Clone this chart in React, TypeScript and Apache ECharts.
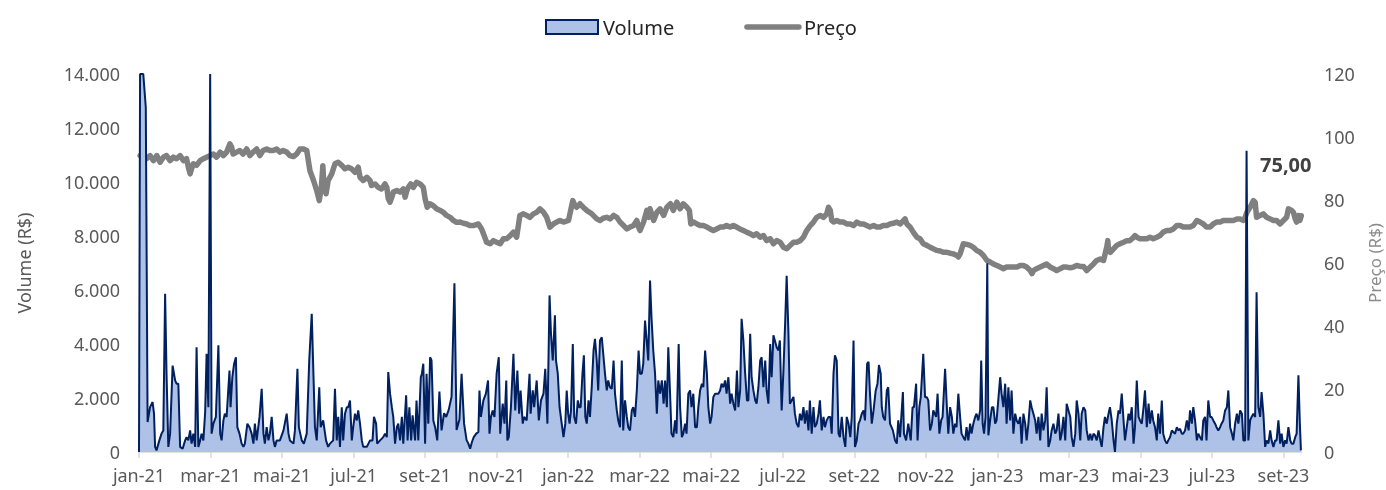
import React, { useEffect, useRef } from "react";
import * as echarts from "echarts";

// x values are months since jan-21 (0 = start of jan-21)
const tickLabels = ["jan-21","mar-21","mai-21","jul-21","set-21","nov-21","jan-22","mar-22","mai-22","jul-22","set-22","nov-22","jan-23","mar-23","mai-23","jul-23","set-23"];
const tickValues = tickLabels.map((_, i) => i * 2);

// Volume (R$) — [month, value]
const vol2021 = [[0,0],[0.03,14000],[0.12,14000],[0.19,12760],[0.24,1110],[0.31,1660],[0.38,1850],[0.42,1420],[0.45,190],[0.49,60],[0.57,430],[0.63,680],[0.68,800],[0.73,5860],[0.77,2900],[0.82,190],[0.87,680],[0.94,3200],[1.01,2650],[1.05,2530],[1.10,2530],[1.15,190],[1.22,120],[1.29,430],[1.33,550],[1.38,430],[1.43,800],[1.47,310],[1.52,680],[1.57,190],[1.61,3880],[1.66,190],[1.71,430],[1.75,680],[1.80,430],[1.85,1480],[1.89,3640],[1.94,1660],[1.99,14000],[2.03,680],[2.08,1050],[2.15,1300],[2.22,3950],[2.27,680],[2.31,430],[2.36,1170],[2.40,1420],[2.45,1300],[2.53,3020],[2.56,1660],[2.61,2770],[2.66,3270],[2.71,3510],[2.75,920],[2.81,680],[2.87,310],[2.92,190],[2.96,310],[3.03,1050],[3.09,920],[3.15,680],[3.20,310],[3.24,1050],[3.29,430],[3.37,1300],[3.43,2340],[3.48,680],[3.52,310],[3.57,920],[3.62,430],[3.66,680],[3.71,1300],[3.76,430],[3.80,190],[3.85,430],[3.94,430],[4.04,800],[4.13,1420],[4.18,680],[4.22,430],[4.32,310],[4.36,800],[4.43,3080],[4.47,920],[4.55,430],[4.61,310],[4.69,680],[4.76,3390],[4.83,5120],[4.88,2770],[4.92,920],[4.97,430],[5.04,2400],[5.08,920],[5.15,1170],[5.23,430],[5.29,190],[5.34,310],[5.43,430],[5.48,2340],[5.53,430],[5.57,1300],[5.62,190],[5.67,1660],[5.71,430],[5.76,1420],[5.81,1660],[5.85,1660],[5.90,1910],[5.95,430],[5.99,920],[6.04,1420],[6.09,1170],[6.13,1540],[6.18,1050],[6.23,430],[6.27,190],[6.37,190],[6.46,430],[6.53,430],[6.57,1300],[6.63,1050],[6.66,310],[6.74,430],[6.83,550],[6.88,680],[6.93,550],[6.97,2960],[7.02,2160],[7.07,1660],[7.11,1300],[7.16,310],[7.21,920],[7.25,1050],[7.30,430],[7.35,1300],[7.39,310],[7.47,2100],[7.51,430],[7.56,1660],[7.61,430],[7.65,1360],[7.72,430],[7.76,1910],[7.81,430],[7.88,2770],[7.91,2900],[7.95,3270],[8.00,310],[8.04,2900],[8.09,1050],[8.14,3510],[8.18,3390],[8.23,1170],[8.28,920],[8.34,430],[8.40,2240],[8.46,800],[8.53,1440],[8.59,1300],[8.66,1560],[8.74,2050],[8.82,6250],[8.88,815],[8.96,1200],[9.02,2900],[9.09,1050],[9.16,440],[9.21,310],[9.26,120],[9.31,370],[9.36,550],[9.43,680],[9.49,740],[9.52,2280],[9.56,1300],[9.63,1910],[9.70,2160],[9.76,2650],[9.80,680],[9.84,1300],[9.89,1540],[9.94,1300],[10.00,2900],[10.06,3510],[10.10,680],[10.17,1790],[10.22,1050],[10.27,2650],[10.30,430],[10.34,550],[10.40,1660],[10.47,3640],[10.52,1540],[10.58,3020],[10.63,1420],[10.67,2280],[10.73,1050],[10.77,1300],[10.84,1170],[10.92,2900],[10.95,1420],[11.01,2280],[11.05,1660],[11.12,2650],[11.18,1170],[11.24,1910],[11.31,2160],[11.36,3080],[11.42,1050],[11.48,5800],[11.52,4380],[11.57,3390],[11.63,5060],[11.66,3390],[11.71,2900],[11.76,1660],[11.82,1050],[11.87,550],[11.92,1050],[11.96,2280],[12.00,1420]];
const vol2022 = [[12.04,1050],[12.08,1540],[12.13,4000],[12.17,1300],[12.22,1050],[12.27,1910],[12.31,1660],[12.35,1660],[12.40,2900],[12.44,3580],[12.48,1300],[12.52,1050],[12.57,1910],[12.61,1300],[12.66,2420],[12.71,3760],[12.75,4190],[12.80,3390],[12.84,2280],[12.89,4130],[12.94,4250],[12.99,3510],[13.03,2900],[13.08,2280],[13.12,2650],[13.17,2400],[13.22,2340],[13.27,3390],[13.31,2160],[13.36,1540],[13.40,1170],[13.45,920],[13.50,3390],[13.54,800],[13.59,1910],[13.64,1300],[13.68,920],[13.73,800],[13.78,1540],[13.82,1660],[13.87,1300],[13.92,2280],[13.97,3760],[14.01,2900],[14.06,2900],[14.10,3270],[14.15,4870],[14.20,4070],[14.24,3390],[14.29,6350],[14.33,5000],[14.38,3760],[14.43,2900],[14.48,1420],[14.52,2650],[14.57,2160],[14.62,2650],[14.67,1790],[14.71,2650],[14.76,1660],[14.80,3880],[14.85,2160],[14.89,680],[14.94,550],[14.99,1170],[15.03,680],[15.09,4000],[15.13,1660],[15.18,550],[15.22,680],[15.27,1050],[15.31,680],[15.36,2160],[15.41,2280],[15.45,1660],[15.50,2160],[15.55,920],[15.60,920],[15.64,1660],[15.69,2280],[15.74,2530],[15.78,2400],[15.83,3760],[15.88,2900],[15.92,1660],[15.97,1050],[16.01,1300],[16.06,2040],[16.11,2160],[16.15,2160],[16.20,2160],[16.25,2280],[16.29,2530],[16.34,2400],[16.39,2650],[16.43,2160],[16.48,2770],[16.53,1790],[16.57,2160],[16.62,1790],[16.67,1540],[16.72,3020],[16.76,1660],[16.81,2280],[16.85,4930],[16.90,4130],[16.95,2900],[17.00,1910],[17.04,1910],[17.09,4380],[17.13,2770],[17.18,2280],[17.23,1910],[17.27,1790],[17.32,2400],[17.37,3390],[17.41,3510],[17.46,2400],[17.51,3390],[17.55,2280],[17.60,1790],[17.65,4000],[17.69,2770],[17.74,4320],[17.78,4130],[17.83,3880],[17.88,3760],[17.92,4130],[17.97,1540],[18.02,3020],[18.07,4870],[18.11,6530],[18.16,4400],[18.20,1790],[18.25,1910],[18.30,2040],[18.34,1420],[18.39,1050],[18.44,920],[18.48,1420],[18.53,1170],[18.58,1660],[18.62,1050],[18.67,1540],[18.72,800],[18.76,1910],[18.81,680],[18.86,1660],[18.90,920],[18.95,1050],[19.00,1420],[19.04,1910],[19.09,800],[19.14,1300],[19.18,920],[19.23,1170],[19.28,1300],[19.33,1300],[19.37,680],[19.42,2900],[19.46,3580],[19.51,3390],[19.56,680],[19.60,550],[19.65,1300],[19.70,550],[19.75,190],[19.79,1300],[19.84,1050],[19.89,550],[19.93,1300],[19.98,4130],[20.02,190],[20.07,430],[20.12,1050],[20.16,1170],[20.21,1420],[20.26,1540],[20.30,1170],[20.36,3270],[20.40,3340],[20.44,2160],[20.49,1050],[20.54,1540],[20.60,2280],[20.65,2530],[20.69,3220],[20.74,2900],[20.77,1660],[20.81,1300],[20.86,1170],[20.91,2280],[20.95,2400],[21.00,1050],[21.08,800],[21.14,430],[21.19,310],[21.23,1170],[21.28,550],[21.36,2220],[21.39,680],[21.45,430],[21.51,1050],[21.58,430],[21.63,1660],[21.67,1660],[21.73,2530],[21.77,430],[21.82,1660],[21.86,2030],[21.93,3640],[21.98,2030],[22.03,2030],[22.07,1910],[22.12,800],[22.17,1050],[22.21,1540],[22.29,1300],[22.33,2160],[22.38,680],[22.43,1170],[22.47,1300],[22.54,3080],[22.59,1660],[22.63,680],[22.68,1660],[22.73,1300],[22.77,680],[22.82,1050],[22.86,920],[22.91,2160],[22.96,1300],[23.00,680],[23.05,550],[23.10,430],[23.14,920],[23.19,430],[23.24,1050],[23.28,680],[23.33,1050],[23.38,1300],[23.42,1420],[23.47,1170],[23.52,1540],[23.55,3390],[23.59,1050],[23.63,680],[23.67,1300],[23.72,6990],[23.75,620],[23.80,1170],[23.85,1660],[23.89,1660],[23.94,1050],[23.98,1170]];
const vol2023 = [[24.08,2770],[24.12,2160],[24.17,1660],[24.22,2530],[24.26,1050],[24.31,2400],[24.36,1170],[24.40,2280],[24.45,680],[24.50,1420],[24.54,1170],[24.59,1050],[24.64,1300],[24.68,310],[24.73,1420],[24.78,1050],[24.82,430],[24.87,1050],[24.92,1910],[24.96,1660],[25.01,1420],[25.06,1170],[25.10,680],[25.15,1300],[25.20,430],[25.24,1420],[25.29,800],[25.34,1170],[25.38,2400],[25.43,190],[25.48,430],[25.52,800],[25.57,1050],[25.62,680],[25.66,800],[25.71,1420],[25.76,430],[25.80,680],[25.85,1300],[25.90,430],[25.94,1790],[25.99,1540],[26.04,1300],[26.08,550],[26.13,190],[26.18,680],[26.22,1910],[26.27,1420],[26.32,430],[26.36,1420],[26.41,1660],[26.46,1540],[26.50,800],[26.55,430],[26.60,680],[26.64,430],[26.69,680],[26.73,620],[26.78,430],[26.83,800],[26.88,430],[26.92,190],[26.97,920],[27.01,1300],[27.06,1050],[27.11,1420],[27.15,1660],[27.20,1170],[27.25,430],[27.29,0],[27.34,1050],[27.39,1540],[27.43,1420],[27.48,2160],[27.53,1170],[27.57,430],[27.62,920],[27.67,1420],[27.71,1170],[27.76,1660],[27.81,310],[27.85,920],[27.90,2650],[27.95,1300],[27.99,1170],[28.04,1050],[28.09,1660],[28.13,2280],[28.18,920],[28.23,1790],[28.27,1050],[28.32,1540],[28.36,1170],[28.41,920],[28.46,430],[28.50,1420],[28.55,680],[28.60,1910],[28.64,680],[28.69,430],[28.74,310],[28.78,430],[28.83,550],[28.88,800],[28.92,740],[28.97,680],[29.02,920],[29.06,800],[29.11,860],[29.16,680],[29.20,680],[29.25,800],[29.30,1170],[29.35,800],[29.39,1540],[29.44,1050],[29.48,1660],[29.53,1170],[29.58,430],[29.62,680],[29.67,550],[29.72,430],[29.76,1170],[29.81,1300],[29.85,430],[29.90,1910],[29.95,1300],[29.99,1300],[30.04,1170],[30.09,1050],[30.13,920],[30.18,800],[30.23,920],[30.27,1050],[30.32,1170],[30.37,1540],[30.42,1660],[30.46,2280],[30.51,920],[30.56,680],[30.60,430],[30.65,1050],[30.70,1420],[30.74,1050],[30.79,1540],[30.84,1420],[30.88,430],[30.93,430],[30.97,11160],[31.02,430],[31.07,1170],[31.11,1300],[31.16,1420],[31.21,1300],[31.25,5920],[31.30,1660],[31.35,1300],[31.39,2220],[31.44,1420],[31.49,190],[31.53,430],[31.58,310],[31.63,800],[31.67,430],[31.72,190],[31.77,430],[31.81,430],[31.86,1170],[31.91,310],[31.95,680],[32.00,190],[32.05,430],[32.09,310],[32.14,920],[32.19,430],[32.23,310],[32.28,310],[32.33,550],[32.37,680],[32.42,2840],[32.46,1050],[32.49,60]];

// Preço (R$) — [month, value]
const price2021 = [[0.03,94.1],[0.12,93.6],[0.21,93.1],[0.31,94.1],[0.40,92.5],[0.50,94.1],[0.59,92.0],[0.68,93.6],[0.77,94.1],[0.87,92.5],[0.96,93.6],[1.05,93.1],[1.15,94.1],[1.24,92.5],[1.33,93.1],[1.38,90.4],[1.43,88.3],[1.47,89.9],[1.52,91.5],[1.61,91.0],[1.71,92.5],[1.80,93.1],[1.89,93.6],[1.99,94.1],[2.08,94.6],[2.17,93.6],[2.27,95.2],[2.36,94.1],[2.45,95.2],[2.54,97.8],[2.59,96.8],[2.63,94.6],[2.73,95.2],[2.82,95.7],[2.91,94.6],[3.01,96.2],[3.10,94.1],[3.19,95.2],[3.29,96.2],[3.38,94.1],[3.47,95.7],[3.57,96.2],[3.66,95.7],[3.75,95.7],[3.85,96.2],[3.94,95.2],[4.03,95.7],[4.13,95.2],[4.22,94.1],[4.32,93.8],[4.41,94.6],[4.50,96.2],[4.60,96.2],[4.69,95.7],[4.78,89.3],[4.88,86.2],[4.97,83.0],[5.04,79.8],[5.10,84.0],[5.14,90.9],[5.17,85.1],[5.23,82.0],[5.29,86.2],[5.39,88.3],[5.48,91.5],[5.57,92.0],[5.67,91.0],[5.76,89.9],[5.85,90.4],[5.94,89.9],[6.04,88.8],[6.13,90.4],[6.18,87.2],[6.27,86.2],[6.37,87.2],[6.46,86.2],[6.50,84.6],[6.60,85.1],[6.69,84.0],[6.78,83.5],[6.88,85.1],[6.93,84.0],[6.97,80.4],[7.02,79.3],[7.07,80.9],[7.11,82.5],[7.21,83.0],[7.30,82.5],[7.39,83.5],[7.44,80.9],[7.49,83.0],[7.53,84.0],[7.60,85.1],[7.67,84.0],[7.76,85.6],[7.86,85.1],[7.95,84.0],[8.00,80.4],[8.06,77.7],[8.13,78.8],[8.23,78.2],[8.32,77.2],[8.42,76.7],[8.51,76.1],[8.60,75.1],[8.70,74.5],[8.79,73.5],[8.88,72.9],[8.98,73.0],[9.07,72.6],[9.16,72.4],[9.25,71.9],[9.35,71.9],[9.49,72.4],[9.58,70.8],[9.65,68.7],[9.72,66.6],[9.82,66.1],[9.91,67.1],[10.00,66.6],[10.10,66.1],[10.19,67.7],[10.28,67.7],[10.38,68.7],[10.47,69.8],[10.56,68.2],[10.61,72.0],[10.65,75.1],[10.75,75.6],[10.84,75.1],[10.93,74.5],[11.03,75.6],[11.12,76.1],[11.21,77.2],[11.31,76.1],[11.40,74.5],[11.49,71.4],[11.59,72.4],[11.68,73.0],[11.77,73.5],[11.87,73.0],[12.01,73.5]];
const price2022 = [[12.08,77.2],[12.13,79.8],[12.19,78.2],[12.24,77.7],[12.33,78.8],[12.42,77.7],[12.52,76.7],[12.66,75.6],[12.80,74.0],[12.89,73.5],[12.98,74.2],[13.08,74.5],[13.17,74.0],[13.27,75.1],[13.36,74.5],[13.45,73.0],[13.55,71.9],[13.64,70.8],[13.73,71.4],[13.83,71.9],[13.92,73.5],[13.97,71.4],[14.01,70.3],[14.11,73.0],[14.20,76.7],[14.25,74.5],[14.29,77.2],[14.39,73.5],[14.48,76.1],[14.57,77.2],[14.67,75.1],[14.76,77.7],[14.86,78.8],[14.94,76.7],[15.04,79.3],[15.13,77.2],[15.22,78.8],[15.32,77.7],[15.39,76.7],[15.43,72.4],[15.50,73.0],[15.60,72.4],[15.69,71.9],[15.78,71.9],[15.88,71.4],[15.97,70.8],[16.06,70.3],[16.15,70.8],[16.25,71.4],[16.34,71.4],[16.43,71.9],[16.53,71.4],[16.62,71.9],[16.71,71.4],[16.80,70.8],[16.90,70.3],[16.99,69.8],[17.09,69.3],[17.18,68.7],[17.27,69.3],[17.37,68.2],[17.46,68.7],[17.55,67.1],[17.65,67.7],[17.74,66.1],[17.83,67.1],[17.93,66.6],[18.02,65.0],[18.11,64.5],[18.21,65.6],[18.30,66.6],[18.39,66.6],[18.49,67.1],[18.58,68.2],[18.67,70.3],[18.77,71.9],[18.86,73.0],[18.95,74.5],[19.05,75.1],[19.14,74.5],[19.23,75.6],[19.28,77.7],[19.33,76.7],[19.37,73.5],[19.42,73.0],[19.51,73.5],[19.60,73.0],[19.70,73.0],[19.79,72.4],[19.89,72.4],[19.98,71.9],[20.07,73.0],[20.16,72.4],[20.26,72.4],[20.35,71.9],[20.44,71.4],[20.54,71.9],[20.63,71.4],[20.72,71.4],[20.81,71.9],[20.91,71.9],[21.00,72.4],[21.09,72.6],[21.19,73.0],[21.28,72.4],[21.38,73.5],[21.42,74.0],[21.47,72.4],[21.56,71.4],[21.65,69.8],[21.75,68.2],[21.84,67.7],[21.93,66.1],[22.03,65.6],[22.12,65.0],[22.21,64.5],[22.31,64.0],[22.40,63.8],[22.49,63.4],[22.59,63.4],[22.68,63.1],[22.77,62.9],[22.87,62.4],[22.91,61.9],[22.96,62.9],[23.05,66.1],[23.15,65.9],[23.24,65.6],[23.33,65.0],[23.42,64.0],[23.52,63.4],[23.61,62.4],[23.71,60.8],[23.80,60.3],[23.89,59.7],[23.99,59.2]];
const price2023 = [[24.08,58.7],[24.17,58.2],[24.26,58.7],[24.36,58.7],[24.45,58.7],[24.55,58.7],[24.64,59.2],[24.73,59.2],[24.82,58.7],[24.92,57.6],[24.97,56.6],[25.01,57.6],[25.10,58.2],[25.20,58.7],[25.29,59.2],[25.38,59.7],[25.48,58.7],[25.57,58.2],[25.66,57.6],[25.76,58.2],[25.85,58.7],[25.94,58.7],[26.04,58.5],[26.13,58.7],[26.22,59.2],[26.32,58.9],[26.41,58.9],[26.50,57.6],[26.60,58.7],[26.69,59.7],[26.78,60.8],[26.88,61.3],[26.97,60.8],[27.06,65.0],[27.09,67.1],[27.11,64.0],[27.16,63.4],[27.25,64.5],[27.34,65.6],[27.43,66.1],[27.53,66.6],[27.62,67.1],[27.71,67.1],[27.81,68.2],[27.85,68.7],[27.90,68.2],[27.99,67.7],[28.09,67.7],[28.18,67.7],[28.27,68.2],[28.36,67.7],[28.46,68.2],[28.55,68.7],[28.64,69.8],[28.74,70.3],[28.83,70.3],[28.92,70.8],[29.02,71.9],[29.11,71.9],[29.20,71.4],[29.30,71.4],[29.39,71.4],[29.48,71.9],[29.58,73.5],[29.67,73.0],[29.76,72.4],[29.85,71.4],[29.95,71.4],[30.04,72.4],[30.13,73.0],[30.23,73.0],[30.32,73.5],[30.42,73.5],[30.51,73.5],[30.60,73.5],[30.70,74.0],[30.79,74.0],[30.88,73.5],[30.93,74.5],[30.98,76.1],[31.07,77.7],[31.16,79.8],[31.21,79.3],[31.25,74.5],[31.35,75.1],[31.44,75.6],[31.53,74.5],[31.63,74.0],[31.72,73.5],[31.81,73.5],[31.91,72.4],[32.00,73.5],[32.09,74.5],[32.14,77.2],[32.23,76.7],[32.28,76.1],[32.33,74.0],[32.37,73.0],[32.42,75.1],[32.46,73.5],[32.50,75.0]];

const lastPriceLabel = "75,00";

const FONT = "'Noto Sans', 'Open Sans', sans-serif";

function fmtThousands(v: number): string {
  return String(v).replace(/\B(?=(\d{3})+(?!\d))/g, ".");
}

export default function App() {
  const ref = useRef<HTMLDivElement>(null);
  useEffect(() => {
    if (!ref.current) return;
    const chart = echarts.init(ref.current, undefined, { renderer: "svg" });
    const volume = [...vol2021, ...vol2022, ...vol2023];
    const price = [...price2021, ...price2022, ...price2023];
    chart.setOption({
      animation: false,
      textStyle: { fontFamily: FONT },
      grid: { left: 139, right: 84, top: 74, bottom: 38, containLabel: false, outerBoundsMode: "none" },
      legend: {
        left: 540,
        top: 12,
        itemWidth: 52,
        itemHeight: 14,
        itemGap: 70,
        selectedMode: false,
        textStyle: { fontSize: 20, color: "#262626", fontFamily: FONT },
        data: [
          { name: "Volume", icon: "rect", itemStyle: { color: "#adc2e6", borderColor: "#002060", borderWidth: 2 } },
          {
            name: "Preço",
            itemStyle: { color: "rgba(0,0,0,0)", borderColor: "rgba(0,0,0,0)", borderWidth: 0, opacity: 0 },
            lineStyle: { color: "#808080", width: 5.5, cap: "round" },
          },
        ],
      },
      xAxis: {
        type: "value",
        min: 0,
        max: 32.52,
        interval: 2,
        splitLine: { show: false },
        axisLine: { show: true, lineStyle: { color: "#d9d9d9", width: 1.5 } },
        axisTick: { show: true, length: 6, customValues: tickValues, lineStyle: { color: "#d9d9d9", width: 1.5 } },
        axisLabel: {
          customValues: tickValues,
          margin: 14,
          fontSize: 18,
          color: "#595959",
          fontFamily: FONT,
          formatter: (v: number) => {
            const i = Math.round(v / 2);
            return Math.abs(v - i * 2) < 1e-6 ? tickLabels[i] || "" : "";
          },
        },
      },
      yAxis: [
        {
          type: "value",
          min: 0,
          max: 14000,
          interval: 2000,
          name: "Volume (R$)",
          nameLocation: "middle",
          nameRotate: 90,
          nameGap: 106,
          nameTextStyle: { fontSize: 18, color: "#595959", fontFamily: FONT },
          splitLine: { show: false },
          axisLine: { show: false },
          axisTick: { show: false },
          axisLabel: { margin: 19, fontSize: 18, color: "#595959", fontFamily: FONT, formatter: (v: number) => fmtThousands(v) },
        },
        {
          type: "value",
          min: 0,
          max: 120,
          interval: 20,
          position: "right",
          name: "Preço (R$)",
          nameLocation: "middle",
          nameRotate: 90,
          nameGap: 62,
          nameTextStyle: { fontSize: 17, color: "#8c8c8c", fontFamily: FONT },
          splitLine: { show: false },
          axisLine: { show: false },
          axisTick: { show: false },
          axisLabel: { margin: 22, fontSize: 18, color: "#595959", fontFamily: FONT },
        },
      ],
      series: [
        {
          name: "Preço",
          type: "line",
          yAxisIndex: 1,
          data: price,
          symbol: "none",
          silent: true,
          lineStyle: { color: "#808080", width: 5.5, join: "round", cap: "round" },
          itemStyle: { color: "#808080" },
          z: 2,
        },
        {
          name: "Volume",
          type: "line",
          yAxisIndex: 0,
          data: volume,
          symbol: "none",
          silent: true,
          lineStyle: { color: "#002060", width: 2 },
          itemStyle: { color: "#002060" },
          areaStyle: { color: "#adc2e6", opacity: 1 },
          z: 3,
        },
      ],
      graphic: [
        {
          type: "text",
          left: 1260,
          top: 154,
          style: { text: lastPriceLabel, font: `bold 20px ${FONT}`, fill: "#404040" },
          z: 10,
        },
      ],
    });
    return () => chart.dispose();
  }, []);
  return <div ref={ref} style={{ position: "fixed", left: 0, top: 0, width: 1386, height: 490 }} />;
}
